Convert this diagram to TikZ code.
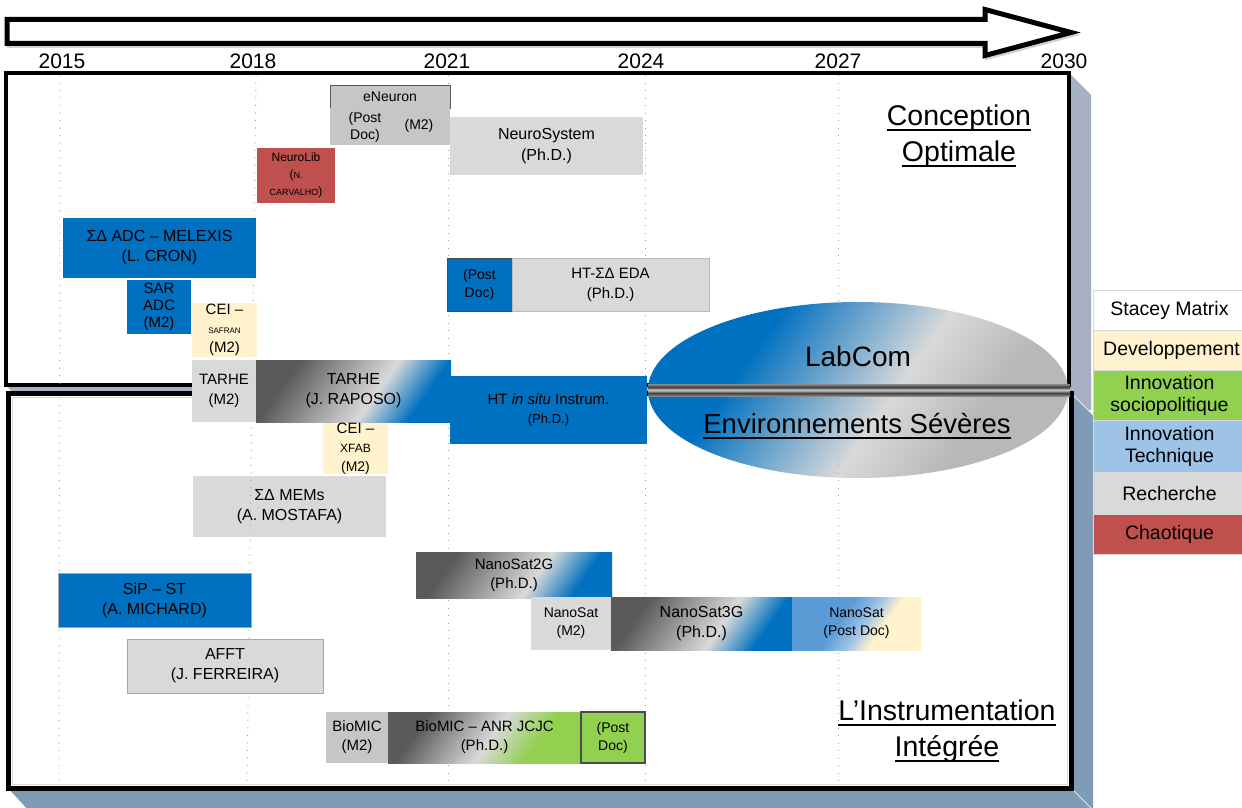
\documentclass[tikz,border=0pt]{standalone}
\usepackage{fontspec}
\setmainfont{Liberation Sans}
\usetikzlibrary{shapes.geometric}
\definecolor{cblue}{HTML}{0070C0}
\definecolor{cgray}{HTML}{D9D9D9}
\definecolor{cmgray}{HTML}{C6C6C6}
\definecolor{ccream}{HTML}{FFF2CC}
\definecolor{cgreen}{HTML}{92D050}
\definecolor{cred}{HTML}{C0504D}
\definecolor{clblue}{HTML}{9DC3E6}
\definecolor{cmblue}{HTML}{5B9BD5}
\definecolor{cdgray}{HTML}{5A5A5A}
\definecolor{shadowA}{HTML}{A7AFC3}
\definecolor{shadowB}{HTML}{7F9BB6}
\definecolor{ellgray}{HTML}{B8B8B8}
\definecolor{pipeD}{HTML}{404040}
\definecolor{pipeM}{HTML}{8A8A8A}
\definecolor{pipeL}{HTML}{C8C8C8}
\pgfdeclarehorizontalshading{gtob}{100bp}{color(0bp)=(cdgray); color(28bp)=(cdgray); color(57bp)=(cgray); color(72bp)=(cblue); color(100bp)=(cblue)}
\pgfdeclarehorizontalshading{gtog}{100bp}{color(0bp)=(cdgray); color(28bp)=(cdgray); color(52bp)=(cgray); color(67bp)=(cgreen); color(100bp)=(cgreen)}
\pgfdeclarehorizontalshading{btoc}{100bp}{color(0bp)=(cmblue); color(42bp)=(cmblue); color(53bp)=(clblue); color(62bp)=(ccream); color(100bp)=(ccream)}
\pgfdeclarehorizontalshading{ellsh}{100bp}{color(0bp)=(cblue); color(33bp)=(cblue); color(55bp)=(cgray); color(68bp)=(ellgray); color(100bp)=(ellgray)}
\pgfdeclareverticalshading{pipe}{100bp}{color(0bp)=(pipeM); color(25bp)=(pipeM); color(37bp)=(pipeD); color(50bp)=(pipeL); color(62bp)=(pipeD); color(75bp)=(pipeM); color(100bp)=(pipeM)}
\newcommand{\fz}[2]{\fontsize{#1}{#2}\selectfont}
\newcommand{\myul}[1]{\setbox0\hbox{#1}\rlap{\rule[-0.2em]{\wd0}{0.08em}}\box0}
\tikzset{
  cell/.style 2 args={anchor=north west, minimum width=#1, minimum height=#2, inner sep=0pt, outer sep=0pt, align=center, font=\fz{15}{19}, text=black},
  lbl/.style={inner sep=0pt, outer sep=0pt, align=center, text=black},
  yearlbl/.style={inner sep=0pt, anchor=base, font=\fz{21}{24}},
  gridln/.style={gray!75, line width=0.9pt, dash pattern=on 1pt off 6.5pt},
  legcell/.style={anchor=north west, minimum width=152, inner sep=0pt, draw=white!85!black, line width=1pt, align=center, font=\fz{19.5}{22}},
  bigtitle/.style={inner sep=0pt, align=center, font=\fz{28.5}{36}},
  slant/.style={shading angle=-35},
}
\begin{document}
\begin{tikzpicture}[x=1pt,y=-1pt]
\useasboundingbox (0,0) rectangle (1242,808);
\clip (0,0) rectangle (1242,808);
\fill[white] (0,0) rectangle (1242,808);
% time arrow
\draw[gray!35, line width=4pt, line join=miter] (8.5,22) -- (986.5,22) -- (986.5,12) -- (1072.5,35) -- (986.5,58) -- (986.5,46) -- (8.5,46) -- cycle;
\draw[line width=5pt, fill=white, line join=miter] (7,19.5) -- (985,19.5) -- (985,9.5) -- (1071,32.5) -- (985,55.5) -- (985,43.5) -- (7,43.5) -- cycle;
% years
\node[yearlbl] (y15) at (62,68) {2015};
\node[yearlbl] (y18) at (253,68) {2018};
\node[yearlbl] (y21) at (447,68) {2021};
\node[yearlbl] (y24) at (641,68) {2024};
\node[yearlbl] (y27) at (838,68) {2027};
\node[yearlbl] (y30) at (1064,68) {2030};
% frames with shadows
\fill[shadowA] (1069,73) -- (1091,95) -- (1091,410) -- (28,410) -- (6,385) -- cycle;
\draw[line width=4.5pt, fill=white] (6,73) rectangle (1069,385);
\fill[shadowB] (1071,393) -- (1093,415) -- (1093,812) -- (30,812) -- (8,788) -- cycle;
\draw[white!80!gray, line width=0.8pt] (1071,393) -- (1093,415);
\draw[white!80!gray, line width=0.8pt] (1071,788) -- (1093,810);
\draw[line width=5pt, fill=white] (8,393) rectangle (1071,788);
\draw[gray!30, line width=0.8pt] (12,397) rectangle (1067,784);
% boxes that are under the grid lines
\node[cell={193}{61}, fill=cgray, font=\fz{16}{20}] (mems) at (193,476) {ΣΔ MEMs\\(A. MOSTAFA)};
\node[ellipse, minimum width=420, minimum height=176, inner sep=0pt, shade, shading=ellsh, slant] (labcom) at (858,390) {};
% grid lines
\draw[gridln] (60,75) -- (59,786);
\draw[gridln] (256,75) -- (247,786);
\draw[gridln] (448,75) -- (448,786);
\draw[gridln] (645,75) -- (645,786);
\draw[gridln] (838,75) -- (838,786);
% upper boxes
\node[cell={120}{23}, fill=cmgray, draw=gray!70!black, line width=0.8pt, font=\fz{14}{17}] (eneuron) at (330,85) {eNeuron};
\node[cell={120}{37}, fill=cmgray] (enbox) at (330,108) {};
\node[lbl, font=\fz{14}{17}] (enpost) at (365,127) {(Post\\Doc)};
\node[lbl, font=\fz{14}{17}] (enm2) at (419,126) {(M2)};
\node[cell={193}{58}, fill=cgray, font=\fz{16}{21}] (neurosys) at (450,117) {NeuroSystem\\(Ph.D.)};
\node[cell={78}{55}, fill=cred, font=\fz{12}{17}] (neurolib) at (257,148) {NeuroLib\\(\fz{9}{17}N.\\\fz{9}{14}CARVALHO\fz{12}{14})};
\node[cell={193}{60}, fill=cblue, font=\fz{16}{20}] (melexis) at (63,218) {ΣΔ ADC – MELEXIS\\(L. CRON)};
\node[cell={64}{54}, fill=cblue, font=\fz{15}{17}] (sar) at (127,280) {SAR\\ADC\\(M2)};
\node[cell={65}{54}, fill=ccream] (ceisaf) at (192,303) {\fz{15}{17}CEI –\\\fz{8}{17}SAFRAN\\\fz{15}{17}(M2)};
\node[cell={65}{53}, fill=cblue, draw=gray!60!black, line width=0.8pt, font=\fz{14}{18}] (htpd) at (447,258) {(Post\\Doc)};
\node[cell={197}{53}, fill=cgray, draw=gray!55, line width=0.8pt, font=\fz{15}{20}] (hteda) at (512,258) {HT-ΣΔ EDA\\(Ph.D.)};
\node[cell={64}{62}, fill=cgray, font=\fz{15}{20}] (tarhem) at (192,360) {TARHE\\(M2)};
\node[cell={195}{62}, shade, shading=gtob, slant, font=\fz{16}{20}] (tarhe) at (256,360) {TARHE\\(J. RAPOSO)};
\node[cell={197}{68}, fill=cblue, font=\fz{15}{19}] (htsitu) at (450,376) {HT \textit{in situ} Instrum.\\\fz{13}{19}(Ph.D.)};
\node[cell={65}{51}, fill=ccream] (ceixfab) at (323,423) {\fz{15}{17}CEI –\\\fz{12}{17}XFAB\\\fz{14}{17}(M2)};
% lower boxes
\node[cell={196}{46}, shade, shading=gtob, slant, font=\fz{15}{19}] (ns2g) at (416,552) {NanoSat2G\\(Ph.D.)};
\node[cell={193}{54}, fill=cblue, draw=gray!70, line width=0.8pt, font=\fz{16}{20}] (sip) at (58,573) {SiP – ST\\(A. MICHARD)};
\node[cell={80}{53}, fill=cgray, font=\fz{14}{18}] (nsm2) at (531,597) {NanoSat\\(M2)};
\node[cell={181}{53}, shade, shading=gtob, slant, font=\fz{16}{20}] (ns3g) at (611,597) {NanoSat3G\\(Ph.D.)};
\node[cell={129}{53}, shade, shading=btoc, slant, font=\fz{14}{18}] (nspd) at (792,597) {NanoSat\\(Post Doc)};
\node[cell={196}{54}, fill=cgray, draw=gray!70, line width=0.8pt, font=\fz{16}{20}] (afft) at (127,639) {AFFT\\(J. FERREIRA)};
\node[cell={62}{51}, fill=cmgray, font=\fz{15}{19}] (biom2) at (326,712) {BioMIC\\(M2)};
\node[cell={193}{51}, shade, shading=gtog, slant, font=\fz{15}{19}] (bioanr) at (388,712) {BioMIC – ANR JCJC\\(Ph.D.)};
\node[cell={64}{51}, fill=cgreen, draw=gray!60!black, line width=1.2pt, font=\fz{14}{18}] (biopd) at (581,712) {(Post\\Doc)};
% pipe across the LabCom ellipse
\shade[shading=pipe] (648,384) rectangle (1070,396);
\node[lbl, font=\fz{28}{32}] (labcomtxt) at (858,356) {LabCom};
\node[lbl, font=\fz{27.5}{32}] (envtxt) at (857,426) {\myul{Environnements Sévères}};
% section titles
\node[bigtitle] (concep) at (959,136) {\myul{Conception}\\\myul{Optimale}};
\node[bigtitle] (instru) at (947,731) {\myul{L’Instrumentation}\\\myul{Intégrée}};
% legend
\node[legcell, minimum height=40, fill=white] (lgs) at (1093,290) {Stacey Matrix};
\node[legcell, minimum height=40, fill=ccream] (lgd) at (1093,330) {\hspace*{4pt}Developpement};
\node[legcell, minimum height=50, fill=cgreen] (lgi) at (1093,370) {Innovation\\sociopolitique};
\node[legcell, minimum height=52, fill=clblue] (lgt) at (1093,420) {Innovation\\Technique};
\node[legcell, minimum height=42, fill=cgray] (lgr) at (1093,472) {Recherche};
\node[legcell, minimum height=40, fill=cred] (lgc) at (1093,514) {Chaotique};
\end{tikzpicture}
\end{document}
